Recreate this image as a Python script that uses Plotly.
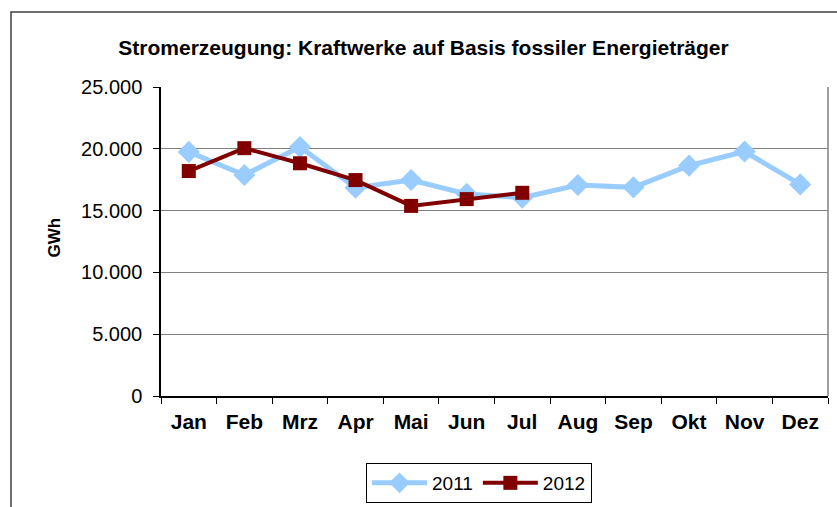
import plotly.graph_objects as go

months = ["Jan", "Feb", "Mrz", "Apr", "Mai", "Jun", "Jul", "Aug", "Sep", "Okt", "Nov", "Dez"]
values_2011 = [19750, 17880, 20150, 16850, 17470, 16350, 16050, 17070, 16880, 18640, 19780, 17120]
values_2012 = [18200, 20050, 18830, 17470, 15380, 15930, 16440]
y_ticks = [0, 5000, 10000, 15000, 20000, 25000]

FONT = "Liberation Sans, Arial, sans-serif"

fig = go.Figure()
fig.add_trace(go.Scatter(
    x=months, y=values_2011, name="2011", mode="lines+markers",
    line=dict(color="#99CCFF", width=5),
    marker=dict(symbol="diamond", size=17, color="#99CCFF"),
))
fig.add_trace(go.Scatter(
    x=months[:len(values_2012)], y=values_2012, name="2012", mode="lines+markers",
    line=dict(color="#800000", width=4),
    marker=dict(symbol="square", size=14, color="#800000"),
))

L, R, T, B = 161, 828, 87, 396
W, H = 837, 507
pw, ph = R - L, B - T

fig.update_layout(
    width=W, height=H,
    margin=dict(l=L, r=W - R, t=T, b=H - B),
    paper_bgcolor="white", plot_bgcolor="white",
    separators=",.",
    font=dict(family=FONT, color="black", size=20),
    title=dict(text="<b>Stromerzeugung: Kraftwerke auf Basis fossiler Energieträger</b>",
               x=423.5 / W, xanchor="center", y=1 - 48 / H, yanchor="middle",
               yref="container", font=dict(size=21, family=FONT)),
    xaxis=dict(
        type="category", range=[-0.5, 11.5], showline=True, linecolor="black", linewidth=1.5,
        ticks="outside", tickson="boundaries", ticklen=6, tickcolor="black",
        tickfont=dict(size=21, family=FONT, weight="bold"), ticklabelstandoff=6,
        showgrid=False, mirror=False, fixedrange=True,
    ),
    yaxis=dict(
        range=[0, 25000], tickvals=y_ticks, tickformat=",.0f",
        showline=True, linecolor="black", linewidth=1.5,
        ticks="outside", ticklen=6, tickcolor="black", ticklabelstandoff=7,
        showgrid=True, gridcolor="#808080", gridwidth=1,
        tickfont=dict(size=20, family=FONT), zeroline=False,
    ),
    showlegend=True,
    legend=dict(
        orientation="h", xref="container", x=479 / W, xanchor="center",
        yref="container", y=1 - 463 / H, yanchor="top",
        bordercolor="black", borderwidth=1, bgcolor="white",
        font=dict(size=19, family=FONT), itemwidth=55,
    ),
    shapes=[
        dict(type="line", xref="paper", yref="paper", x0=1, x1=1, y0=0, y1=1,
             line=dict(color="#808080", width=1.5)),
        dict(type="rect", xref="paper", yref="paper",
             x0=(11 - L) / pw, x1=(W + 20 - L) / pw,
             y0=(B - H - 20) / ph, y1=(B - 12) / ph,
             line=dict(color="#404040", width=1.5), fillcolor="rgba(0,0,0,0)", layer="below"),
    ],
    annotations=[
        dict(text="<b>GWh</b>", xref="paper", yref="paper", x=(54 - L) / pw, y=(B - 237.5) / ph,
             xanchor="center", yanchor="middle", textangle=-90, showarrow=False,
             font=dict(size=17, family=FONT)),
    ],
)

page_fix = (
    "var h=document.documentElement, b=document.body;"
    "h.style.margin='0';h.style.padding='0';h.style.height='507px';h.style.overflow='hidden';"
    "b.style.margin='0';b.style.padding='0';b.style.height='507px';b.style.overflow='hidden';"
)
fig.write_html("out.html", config={"displayModeBar": False}, post_script=page_fix)
